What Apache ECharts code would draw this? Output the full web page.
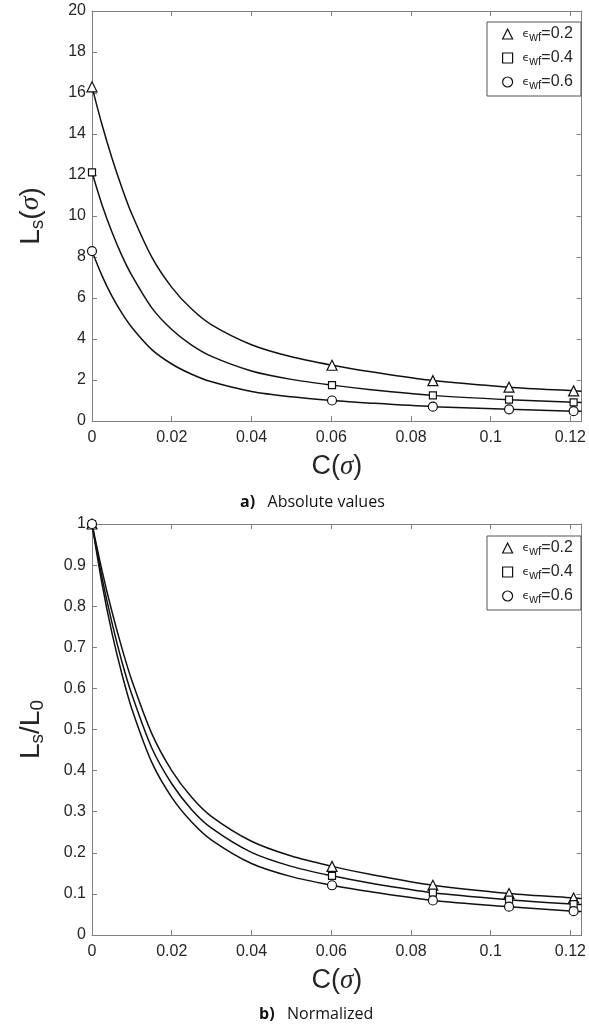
<!DOCTYPE html>
<html><head><meta charset="utf-8">
<script src="https://cdn.jsdelivr.net/npm/echarts@6/dist/echarts.min.js"></script>
<style>html,body{margin:0;padding:0;background:#fff}#c{width:589px;height:1028px}</style>
</head><body><div id="c"></div>
<script>
// ---- data ----
const cValues = [0, 0.0025, 0.005, 0.0075, 0.01, 0.015, 0.02, 0.025, 0.03, 0.04, 0.05, 0.0602, 0.07, 0.0855, 0.1046, 0.1208, 0.1228];
const markerIndex = [0, 11, 13, 14, 15];
const seriesNames = ['0.2', '0.4', '0.6'];
const absEps02 = [16.3, 14.46, 12.83, 11.38, 10.09, 7.99, 6.52, 5.46, 4.69, 3.72, 3.13, 2.72, 2.40, 1.97, 1.65, 1.47, 1.45];
const absEps04 = [12.13, 10.55, 9.22, 8.07, 7.10, 5.52, 4.46, 3.70, 3.15, 2.44, 2.03, 1.75, 1.53, 1.25, 1.04, 0.91, 0.90];
const absEps06 = [8.29, 7.09, 6.09, 5.26, 4.56, 3.48, 2.78, 2.28, 1.91, 1.44, 1.18, 1.00, 0.87, 0.70, 0.57, 0.48, 0.47];
const normEps02 = [1, 0.887, 0.787, 0.698, 0.619, 0.49, 0.40, 0.335, 0.288, 0.228, 0.192, 0.167, 0.147, 0.121, 0.101, 0.090, 0.089];
const normEps04 = [1, 0.87, 0.76, 0.665, 0.585, 0.455, 0.368, 0.305, 0.26, 0.201, 0.167, 0.144, 0.126, 0.103, 0.086, 0.075, 0.074];
const normEps06 = [1, 0.855, 0.735, 0.635, 0.55, 0.42, 0.335, 0.275, 0.231, 0.174, 0.142, 0.121, 0.105, 0.084, 0.069, 0.058, 0.057];
const xTicks = [0, 0.02, 0.04, 0.06, 0.08, 0.1, 0.12];
const xTickLabels = ['0', '0.02', '0.04', '0.06', '0.08', '0.1', '0.12'];
const yTicksAbs = [0, 2, 4, 6, 8, 10, 12, 14, 16, 18, 20];
const yTickLabelsAbs = ['0', '2', '4', '6', '8', '10', '12', '14', '16', '18', '20'];
const yTicksNorm = [0, 0.1, 0.2, 0.3, 0.4, 0.5, 0.6, 0.7, 0.8, 0.9, 1];
const yTickLabelsNorm = ['0', '0.1', '0.2', '0.3', '0.4', '0.5', '0.6', '0.7', '0.8', '0.9', '1'];
const xMax = 0.1228;

// ---- styling / build ----
const chart = echarts.init(document.getElementById('c'), null, {renderer: 'canvas'});
const FONT = 'Liberation Sans, Arial, sans-serif';
const SERIF = 'Liberation Serif, DejaVu Serif, serif';
const frame = '#808080';
const txt = '#262626';
const symbols = ['triangle', 'rect', 'circle'];
const symSizes = [10, 7, 9];

function lookup(ticks, labels) {
  return v => { const i = ticks.findIndex(t => Math.abs(t - v) < 1e-9); return i >= 0 ? labels[i] : ''; };
}
function xAx(grid, pos) {
  return {type: 'value', gridIndex: grid, position: pos, min: 0, max: xMax, interval: 0.02,
    axisLine: {show: true, onZero: false, lineStyle: {color: frame, width: 1}},
    axisTick: {show: true, inside: true, length: 5, lineStyle: {color: frame}},
    axisLabel: {show: pos === 'bottom', color: txt, fontSize: 16, fontFamily: FONT, margin: 9,
      formatter: lookup(xTicks, xTickLabels)},
    splitLine: {show: false},
    name: pos === 'bottom' ? '{t|C(}{s|σ}{t|)}' : '', nameLocation: 'middle', nameGap: 32,
    nameTextStyle: {rich: {t: {fontSize: 27, fontFamily: FONT, color: txt}, s: {fontSize: 27, fontFamily: SERIF, fontStyle: 'italic', color: txt}}}
  };
}
function yAx(grid, pos, max, interval, ticks, labels, nameStr) {
  return {type: 'value', gridIndex: grid, position: pos, min: 0, max: max, interval: interval,
    axisLine: {show: true, onZero: false, lineStyle: {color: frame, width: 1}},
    axisTick: {show: true, inside: true, length: 5, lineStyle: {color: frame}},
    axisLabel: {show: pos === 'left', color: txt, fontSize: 16, fontFamily: FONT, margin: 6,
      formatter: lookup(ticks, labels)},
    splitLine: {show: false},
    name: pos === 'left' ? nameStr : '', nameLocation: 'middle', nameGap: 45, nameRotate: 90,
    nameTextStyle: {rich: {
      t: {fontSize: 28, fontFamily: FONT, color: txt, lineHeight: 32, verticalAlign: 'middle'},
      b: {fontSize: 19, fontFamily: FONT, color: txt, lineHeight: 12, verticalAlign: 'bottom'},
      s: {fontSize: 28, fontFamily: SERIF, fontStyle: 'italic', color: txt, lineHeight: 32, verticalAlign: 'middle'}}}
  };
}
const grids = [
  {left: 92, top: 11, width: 492, height: 410},
  {left: 92, top: 524, width: 492, height: 411}
];
const xAxes = [xAx(0, 'bottom'), xAx(0, 'top'), xAx(1, 'bottom'), xAx(1, 'top')];
const yAxes = [
  yAx(0, 'left', 20, 2, yTicksAbs, yTickLabelsAbs, '{t|L}{b|s}{t|(}{s|σ}{t|)}'),
  yAx(0, 'right', 20, 2, yTicksAbs, yTickLabelsAbs, ''),
  yAx(1, 'left', 1, 0.1, yTicksNorm, yTickLabelsNorm, '{t|L}{b|s}{t|/L}{b|0}'),
  yAx(1, 'right', 1, 0.1, yTicksNorm, yTickLabelsNorm, '')
];
const groups = [[absEps02, absEps04, absEps06], [normEps02, normEps04, normEps06]];
const series = [];
groups.forEach((g, gi) => {
  g.forEach((vals, si) => {
    series.push({type: 'line', name: 'line' + gi + si, xAxisIndex: gi * 2, yAxisIndex: gi * 2,
      data: cValues.map((c, i) => [c, vals[i]]), showSymbol: false, smooth: 0.3,
      lineStyle: {color: '#111', width: 1.5}, silent: true, z: 2});
  });
  g.forEach((vals, si) => {
    series.push({type: 'scatter', name: seriesNames[si], xAxisIndex: gi * 2, yAxisIndex: gi * 2,
      data: markerIndex.map(i => [cValues[i], vals[i]]), symbol: symbols[si], symbolSize: symSizes[si],
      itemStyle: {color: '#fff', borderColor: '#111', borderWidth: 1.2, opacity: 1}, z: 3});
  });
});
function legendFor(top) {
  return {top: top, left: 487, orient: 'vertical', itemWidth: 10, itemHeight: 10, itemGap: 6,
    padding: [4, 8, 4, 15], borderColor: '#555', borderWidth: 1, backgroundColor: '#fff',
    data: seriesNames.map((n, i) => ({name: n, icon: symbols[i],
      itemStyle: {color: '#fff', borderColor: '#111', borderWidth: 1.2}})),
    formatter: n => '{e|ϵ}{w|wf}{t|=' + n + '}',
    textStyle: {rich: {
      e: {fontSize: 11, fontFamily: 'DejaVu Sans', color: txt, padding: [0, 0, 0, 5], lineHeight: 20, verticalAlign: 'middle'},
      w: {fontSize: 12, fontFamily: FONT, color: txt, lineHeight: 10, verticalAlign: 'bottom'},
      t: {fontSize: 16, fontFamily: FONT, color: txt, lineHeight: 20, verticalAlign: 'middle'}}},
    selectedMode: false};
}
chart.setOption({
  animation: false,
  backgroundColor: '#fff',
  grid: grids,
  xAxis: xAxes,
  yAxis: yAxes,
  legend: [legendFor(22), legendFor(536)],
  series: series,
  graphic: [
    {type: 'text', left: 240, top: 494, style: {text: '{b|a)}{n|   Absolute values}',
      rich: {b: {fontSize: 16, fontWeight: 'bold', fontFamily: 'Open Sans', fill: '#111'}, n: {fontSize: 16, fontFamily: 'Open Sans', fill: '#111'}}}},
    {type: 'text', left: 259, top: 1006, style: {text: '{b|b)}{n|   Normalized}',
      rich: {b: {fontSize: 16, fontWeight: 'bold', fontFamily: 'Open Sans', fill: '#111'}, n: {fontSize: 16, fontFamily: 'Open Sans', fill: '#111'}}}}
  ]
});
</script></body></html>
